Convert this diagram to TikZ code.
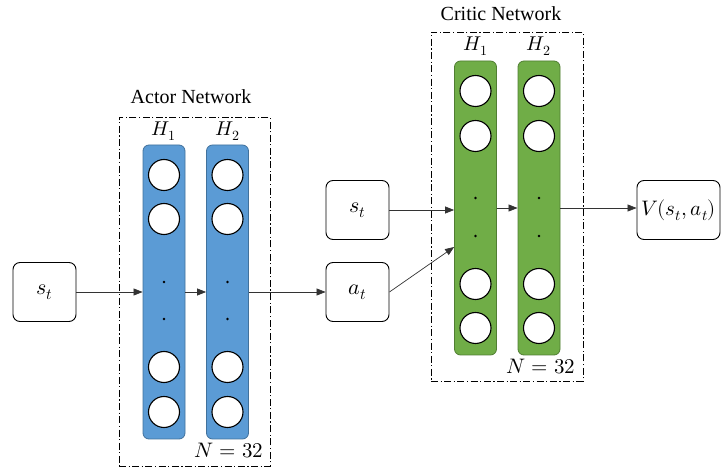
\documentclass[tikz,border=0pt]{standalone}
\usepackage{fontspec}
\usepackage{unicode-math}
\setmainfont{Liberation Serif}
\setmathfont{Latin Modern Math}
\usetikzlibrary{arrows.meta}
\definecolor{bluefill}{HTML}{5B9BD5}
\definecolor{blueline}{HTML}{41719C}
\definecolor{greenfill}{HTML}{70AD47}
\definecolor{greenline}{HTML}{507E32}
\tikzset{
  iobox/.style={draw=black, line width=0.9pt, rounded corners=7pt, minimum width=63pt, minimum height=59pt, inner sep=0pt, font=\fontsize{22}{26}\selectfont, fill=white},
  colblue/.style={draw=blueline, fill=bluefill, line width=0.8pt, rounded corners=6pt, minimum width=42pt, minimum height=294pt, inner sep=0pt},
  colgreen/.style={draw=greenline, fill=greenfill, line width=0.8pt, rounded corners=6pt, minimum width=42pt, minimum height=294pt, inner sep=0pt},
  neuron/.style={circle, draw=black, fill=white, line width=1.1pt, minimum size=31pt, inner sep=0pt},
  dotn/.style={circle, fill=black, minimum size=2.6pt, inner sep=0pt},
  netframe/.style={draw=black, line width=0.9pt, dash pattern=on 7pt off 2.5pt on 1.2pt off 2.5pt},
  arr/.style={draw=black!80, line width=0.7pt, -{Triangle[length=9pt,width=7pt]}},
  ttl/.style={font=\fontsize{20}{24}\selectfont},
  hlab/.style={font=\fontsize{20}{24}\selectfont},
  nlab/.style={font=\fontsize{21}{25}\selectfont},
}
\begin{document}
\begin{tikzpicture}[x=1pt,y=-1pt]
\useasboundingbox (0,0) rectangle (724,473);
% ---------- Actor ----------
\node[netframe, minimum width=151pt, minimum height=349pt, inner sep=0pt] (af) at (194.5,291.5) {};
\node[ttl] (at) at (191,97) {Actor Network};
\node[colblue] (a1) at (164,292) {};
\node[colblue] (a2) at (227.5,292) {};
\node[hlab] (ah1) at (164,131) {$H_1$};
\node[hlab] (ah2) at (227.5,131) {$H_2$};
\foreach \c/\x in {a1/164, a2/227.5}{
  \node[neuron] (\c n1) at (\x,175) {};
  \node[neuron] (\c n2) at (\x,219) {};
  \node[neuron] (\c n3) at (\x,367) {};
  \node[neuron] (\c n4) at (\x,412) {};
  \node[dotn] (\c d1) at (\x,282) {};
  \node[dotn] (\c d2) at (\x,319) {};
}
\node[nlab] (an) at (229,451) {$N=32$};
\node[iobox] (s1) at (44.5,292) {$s_t$};
\node[iobox] (act) at (357.5,292) {$a_t$};
\draw[arr] (s1.east) -- (a1.west);
\draw[arr] (a1.east) -- (a2.west);
\draw[arr] (a2.east) -- (act.west);
% ---------- Critic ----------
\node[netframe, minimum width=152pt, minimum height=349pt, inner sep=0pt] (cf) at (507,206.5) {};
\node[ttl] (ct) at (501,14) {Critic Network};
\node[colgreen] (c1) at (475.5,208) {};
\node[colgreen] (c2) at (539,208) {};
\node[hlab] (ch1) at (475.5,46) {$H_1$};
\node[hlab] (ch2) at (539,46) {$H_2$};
\foreach \c/\x in {c1/475.5, c2/539}{
  \node[neuron] (\c n1) at (\x,91) {};
  \node[neuron] (\c n2) at (\x,136) {};
  \node[neuron] (\c n3) at (\x,284) {};
  \node[neuron] (\c n4) at (\x,328) {};
  \node[dotn] (\c d1) at (\x,198) {};
  \node[dotn] (\c d2) at (\x,236) {};
}
\node[nlab] (cn) at (541,367) {$N=32$};
\node[iobox] (s2) at (357.5,210) {$s_t$};
\node[iobox, minimum width=83pt, font=\fontsize{21}{25}\selectfont] (v) at (678.5,210) {$V(s_t,a_t)$};
\draw[arr] (s2.east) -- (s2.east -| c1.west);
\draw[arr] (act.east) -- ([yshift=-39pt]c1.west);
\draw[arr] (c1.east) -- (c2.west);
\draw[arr] (c2.east) -- (c2.east -| v.west);
\end{tikzpicture}
\end{document}
